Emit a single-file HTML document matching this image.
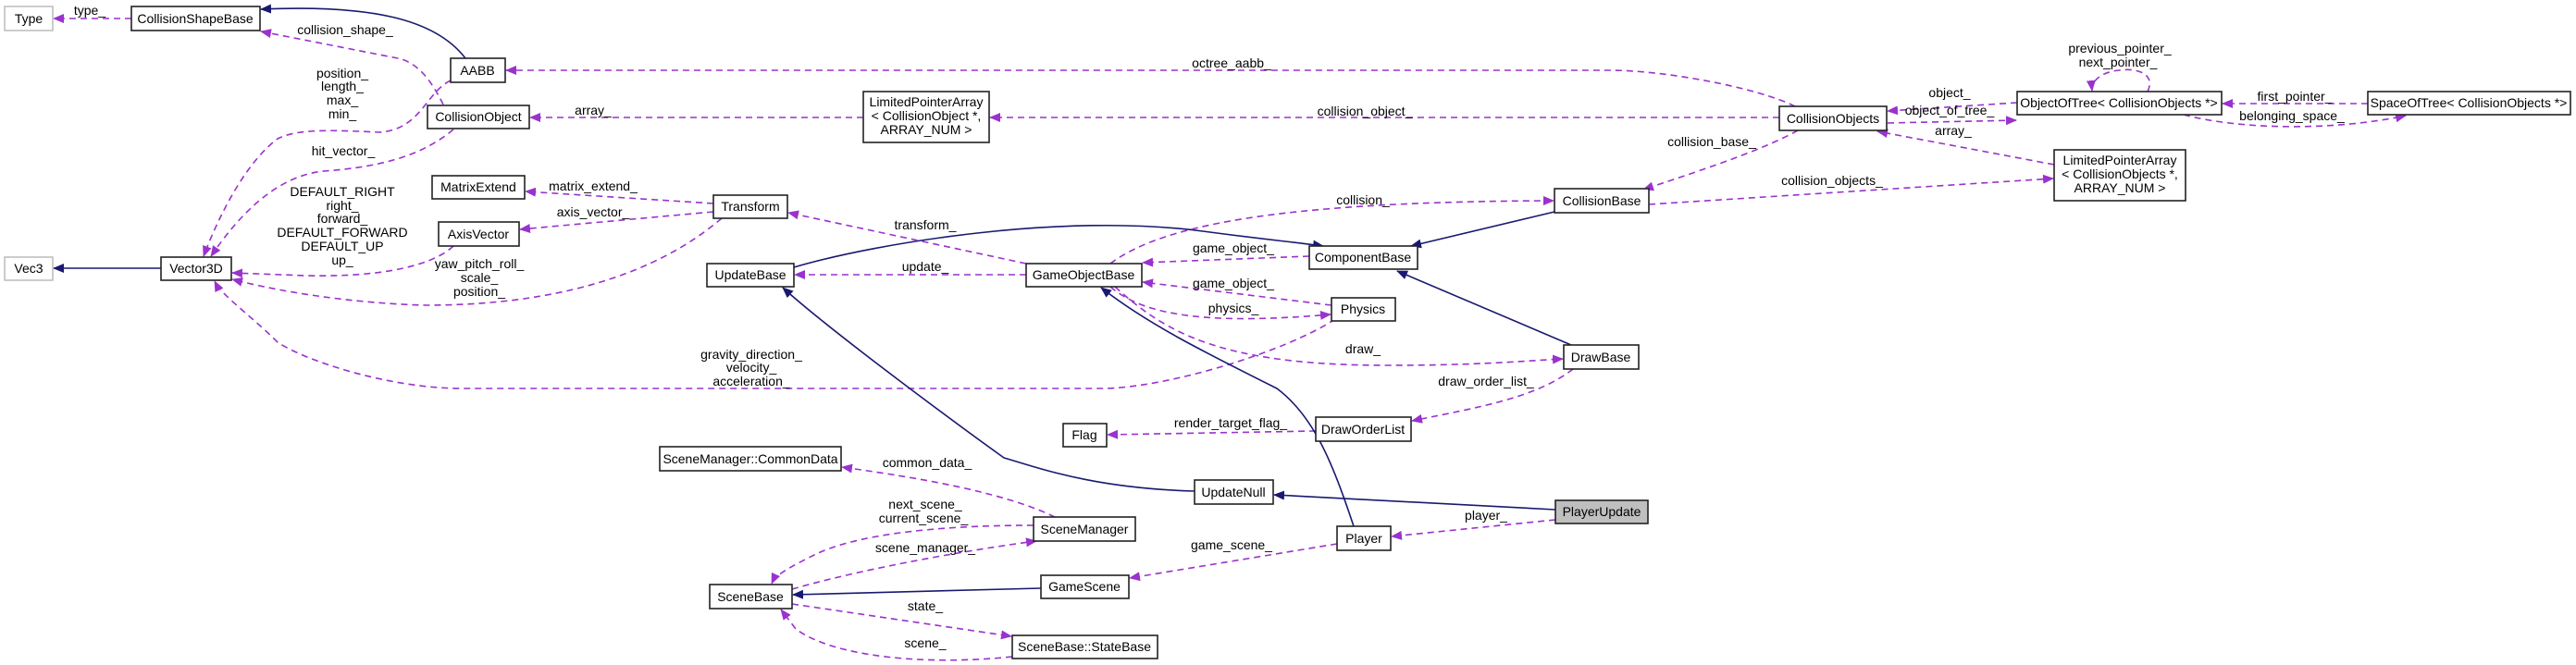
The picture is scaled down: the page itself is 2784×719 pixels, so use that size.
<!DOCTYPE html>
<html><head><meta charset="utf-8"><style>
html,body{margin:0;padding:0;background:#fff;}
svg{display:block;}
text{font-family:"Liberation Sans",Arial,sans-serif;font-size:14px;fill:#000;}
.n{fill:#fff;stroke:#222;stroke-width:1.6;}
.g{fill:#fff;stroke:#bfbfbf;stroke-width:1.6;}
.d{fill:none;stroke:#9a32cd;stroke-width:1.6;stroke-dasharray:7,5;marker-end:url(#pa);}
.s{fill:none;stroke:#191970;stroke-width:1.6;marker-end:url(#ba);}
</style></head><body>
<svg width="2784" height="719" viewBox="0 0 2784 719" xmlns="http://www.w3.org/2000/svg">
<defs>
<marker id="pa" markerWidth="12" markerHeight="10" refX="11" refY="5" orient="auto" markerUnits="userSpaceOnUse"><path d="M0,0 L12,5 L0,10 z" fill="#9a32cd"/></marker>
<marker id="ba" markerWidth="12" markerHeight="10" refX="11" refY="5" orient="auto" markerUnits="userSpaceOnUse"><path d="M0,0 L12,5 L0,10 z" fill="#191970"/></marker>
</defs>

<!-- edges -->
<path class="d" d="M142,20 L58,20"/>
<path class="s" d="M503,63 C470,20 400,5 282,10"/>
<path class="d" d="M479,113 C470,95 455,68 430,63 L282,34"/>
<path class="d" d="M487,87 C460,100 455,140 410,143 C350,140 320,140 300,150 C260,180 230,250 220,277"/>
<path class="d" d="M490,140 C460,165 420,180 350,185 C300,190 260,230 228,277"/>
<path class="d" d="M490,266 C470,285 420,300 330,298 L251,295"/>
<path class="d" d="M780,236 C740,270 650,330 460,330 C380,328 300,315 251,302"/>
<path class="d" d="M1443,345 C1390,380 1260,420 1190,420 L500,420 C420,420 330,390 300,370 C270,340 240,320 232,304"/>
<path class="d" d="M771,220 L568,207"/>
<path class="d" d="M771,229 L562,248"/>
<path class="s" d="M174,290 L58,290"/>
<path class="d" d="M933,127 L573,127"/>
<path class="d" d="M1940,115 C1900,95 1800,76 1740,76 L547,76"/>
<path class="d" d="M1923,127 L1070,127"/>
<path class="d" d="M2180,111 L2040,120"/>
<path class="d" d="M2040,133 L2179,130"/>
<path class="d" d="M2321,99 C2330,80 2310,73 2290,76 C2270,78 2260,88 2261,98"/>
<path class="d" d="M2559,112 L2402,112"/>
<path class="d" d="M2360,124 C2420,140 2520,142 2600,125"/>
<path class="d" d="M2220,178 L2029,142"/>
<path class="d" d="M1782,221 L2219,193"/>
<path class="d" d="M1943,141 C1900,165 1820,190 1776,205"/>
<path class="s" d="M1680,229 L1525,266"/>
<path class="s" d="M858,289 C950,262 1150,230 1300,250 C1360,258 1400,262 1430,266"/>
<path class="d" d="M1109,285 L852,230"/>
<path class="d" d="M1109,297 L859,297"/>
<path class="d" d="M1200,285 C1260,240 1400,218 1679,217"/>
<path class="d" d="M1415,277 L1235,284"/>
<path class="d" d="M1439,330 L1235,305"/>
<path class="d" d="M1200,310 C1240,345 1320,350 1438,340"/>
<path class="d" d="M1205,310 C1260,360 1320,395 1500,395 C1600,395 1650,390 1689,388"/>
<path class="s" d="M1698,373 L1510,293"/>
<path class="d" d="M1700,399 C1660,430 1600,440 1526,455"/>
<path class="d" d="M1422,466 L1197,470"/>
<path class="s" d="M1291,531 C1180,528 1120,505 1085,495 C1050,470 900,360 846,311"/>
<path class="s" d="M1681,551 L1377,535"/>
<path class="s" d="M1463,569 C1440,500 1420,450 1380,420 C1300,380 1240,350 1190,311"/>
<path class="d" d="M1681,562 L1504,580"/>
<path class="d" d="M1140,559 C1080,530 980,515 910,505"/>
<path class="d" d="M1117,568 C1000,568 920,580 880,600 C850,615 838,622 834,631"/>
<path class="d" d="M856,637 C950,610 1080,590 1120,585"/>
<path class="s" d="M1125,636 L857,643"/>
<path class="d" d="M1445,588 L1221,625"/>
<path class="d" d="M856,653 L1093,688"/>
<path class="d" d="M1094,710 C1000,720 900,710 860,680 L844,659"/>

<!-- nodes -->
<rect class="g" x="5" y="7" width="52" height="26"/><text x="31" y="25" text-anchor="middle">Type</text>
<rect class="n" x="142" y="7" width="139" height="26"/><text x="211" y="25" text-anchor="middle">CollisionShapeBase</text>
<rect class="n" x="487" y="63" width="59" height="26"/><text x="516" y="81" text-anchor="middle">AABB</text>
<rect class="n" x="462" y="114" width="110" height="25"/><text x="517" y="131" text-anchor="middle">CollisionObject</text>
<rect class="n" x="467" y="190" width="100" height="25"/><text x="517" y="207" text-anchor="middle">MatrixExtend</text>
<rect class="n" x="474" y="240" width="87" height="26"/><text x="517" y="258" text-anchor="middle">AxisVector</text>
<rect class="g" x="5" y="278" width="52" height="25"/><text x="31" y="295" text-anchor="middle">Vec3</text>
<rect class="n" x="174" y="278" width="76" height="25"/><text x="212" y="295" text-anchor="middle">Vector3D</text>
<rect class="n" x="933" y="99" width="136" height="55"/>
<text x="1001" y="115" text-anchor="middle">LimitedPointerArray</text><text x="1001" y="130" text-anchor="middle">&lt; CollisionObject *,</text><text x="1001" y="145" text-anchor="middle">ARRAY_NUM &gt;</text>
<rect class="n" x="771" y="211" width="80" height="25"/><text x="811" y="228" text-anchor="middle">Transform</text>
<rect class="n" x="764" y="285" width="94" height="25"/><text x="811" y="302" text-anchor="middle">UpdateBase</text>
<rect class="n" x="1109" y="285" width="125" height="25"/><text x="1171" y="302" text-anchor="middle">GameObjectBase</text>
<rect class="n" x="1415" y="266" width="117" height="25"/><text x="1473" y="283" text-anchor="middle">ComponentBase</text>
<rect class="n" x="1680" y="204" width="102" height="26"/><text x="1731" y="222" text-anchor="middle">CollisionBase</text>
<rect class="n" x="1439" y="322" width="69" height="25"/><text x="1473" y="339" text-anchor="middle">Physics</text>
<rect class="n" x="1923" y="115" width="116" height="26"/><text x="1981" y="133" text-anchor="middle">CollisionObjects</text>
<rect class="n" x="2180" y="99" width="221" height="25"/><text x="2290" y="116" text-anchor="middle">ObjectOfTree&lt; CollisionObjects *&gt;</text>
<rect class="n" x="2559" y="99" width="219" height="25"/><text x="2668" y="116" text-anchor="middle">SpaceOfTree&lt; CollisionObjects *&gt;</text>
<rect class="n" x="2220" y="162" width="142" height="55"/>
<text x="2291" y="178" text-anchor="middle">LimitedPointerArray</text><text x="2291" y="193" text-anchor="middle">&lt; CollisionObjects *,</text><text x="2291" y="208" text-anchor="middle">ARRAY_NUM &gt;</text>
<rect class="n" x="1690" y="373" width="81" height="26"/><text x="1730" y="391" text-anchor="middle">DrawBase</text>
<rect class="n" x="1422" y="451" width="103" height="26"/><text x="1473" y="469" text-anchor="middle">DrawOrderList</text>
<rect class="n" x="1149" y="458" width="47" height="25"/><text x="1172" y="475" text-anchor="middle">Flag</text>
<rect class="n" x="713" y="483" width="196" height="26"/><text x="811" y="501" text-anchor="middle">SceneManager::CommonData</text>
<rect class="n" x="1291" y="519" width="85" height="26"/><text x="1333" y="537" text-anchor="middle">UpdateNull</text>
<rect x="1681" y="541" width="100" height="25" fill="#bfbfbf" stroke="#222" stroke-width="1.6"/><text x="1731" y="558" text-anchor="middle">PlayerUpdate</text>
<rect class="n" x="1117" y="559" width="110" height="26"/><text x="1172" y="577" text-anchor="middle">SceneManager</text>
<rect class="n" x="1445" y="569" width="58" height="26"/><text x="1474" y="587" text-anchor="middle">Player</text>
<rect class="n" x="767" y="632" width="89" height="26"/><text x="811" y="650" text-anchor="middle">SceneBase</text>
<rect class="n" x="1125" y="622" width="95" height="25"/><text x="1172" y="639" text-anchor="middle">GameScene</text>
<rect class="n" x="1094" y="687" width="157" height="25"/><text x="1172" y="704" text-anchor="middle">SceneBase::StateBase</text>

<!-- labels -->
<g text-anchor="middle">
<text x="97" y="16">type_</text>
<text x="373" y="37">collision_shape_</text>
<text x="370" y="84">position_</text><text x="370" y="98">length_</text><text x="370" y="113">max_</text><text x="370" y="128">min_</text>
<text x="371" y="168">hit_vector_</text>
<text x="370" y="212">DEFAULT_RIGHT</text><text x="370" y="227">right_</text><text x="370" y="241">forward_</text><text x="370" y="256">DEFAULT_FORWARD</text><text x="370" y="271">DEFAULT_UP</text><text x="370" y="286">up_</text>
<text x="641" y="206">matrix_extend_</text>
<text x="641" y="234">axis_vector_</text>
<text x="518" y="290">yaw_pitch_roll_</text><text x="518" y="305">scale_</text><text x="518" y="320">position_</text>
<text x="641" y="124">array_</text>
<text x="1331" y="73">octree_aabb_</text>
<text x="1475" y="125">collision_object_</text>
<text x="1000" y="248">transform_</text>
<text x="1000" y="293">update_</text>
<text x="1473" y="221">collision_</text>
<text x="1333" y="273">game_object_</text>
<text x="1333" y="311">game_object_</text>
<text x="1333" y="338">physics_</text>
<text x="1473" y="382">draw_</text>
<text x="1606" y="417">draw_order_list_</text>
<text x="1330" y="462">render_target_flag_</text>
<text x="812" y="388">gravity_direction_</text><text x="812" y="402">velocity_</text><text x="812" y="417">acceleration_</text>
<text x="2291" y="57">previous_pointer_</text><text x="2289" y="72">next_pointer_</text>
<text x="2107" y="105">object_</text>
<text x="2107" y="124">object_of_tree_</text>
<text x="2111" y="146">array_</text>
<text x="2480" y="109">first_pointer_</text>
<text x="2477" y="130">belonging_space_</text>
<text x="1850" y="158">collision_base_</text>
<text x="1980" y="200">collision_objects_</text>
<text x="1002" y="505">common_data_</text>
<text x="1000" y="550">next_scene_</text><text x="998" y="565">current_scene_</text>
<text x="1000" y="597">scene_manager_</text>
<text x="1331" y="594">game_scene_</text>
<text x="1606" y="562">player_</text>
<text x="1000" y="660">state_</text>
<text x="1000" y="700">scene_</text>
</g>
</svg>
</body></html>
